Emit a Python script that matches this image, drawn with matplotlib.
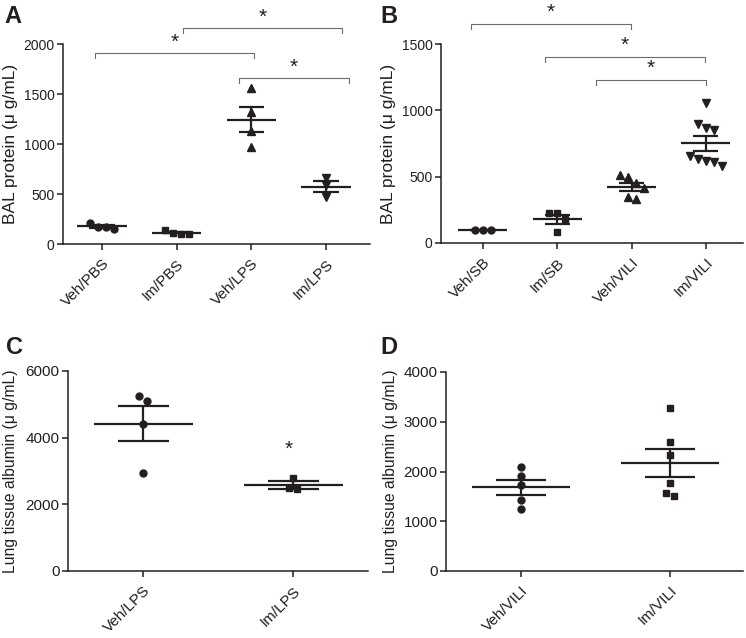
import numpy as np
import matplotlib.pyplot as plt

plt.rcParams['font.family'] = ['Liberation Sans', 'DejaVu Sans']

# ---- datos ----
# A: proteina en BAL, modelo LPS
grupos_a = ['Veh/PBS', 'Im/PBS', 'Veh/LPS', 'Im/LPS']
veh_pbs = [213, 173, 170, 150]
im_pbs = [140, 115, 100, 105]
veh_lps = [1560, 1320, 1130, 970]
im_lps = [660, 590, 475]

# B: proteina en BAL, modelo VILI
grupos_b = ['Veh/SB', 'Im/SB', 'Veh/VILI', 'Im/VILI']
veh_sb = [100, 100, 100]
im_sb = [225, 225, 180, 85]
veh_vili = [510, 495, 450, 415, 345, 330]
im_vili = [1053, 895, 864, 852, 656, 633, 618, 613, 580]

# C: albumina en tejido, LPS
grupos_c = ['Veh/LPS', 'Im/LPS']
alb_veh_lps = [5250, 5100, 4400, 2950]
alb_im_lps = [2800, 2450, 2500]

# D: albumina en tejido, VILI
grupos_d = ['Veh/VILI', 'Im/VILI']
alb_veh_vili = [2090, 1910, 1730, 1430, 1240]
alb_im_vili = [3270, 2590, 2330, 1760, 1570, 1510]

# comparaciones significativas (grupo i, grupo j, altura)
comp_a = [(0, 2, 1910), (1, 3, 2160), (2, 3, 1660)]
comp_b = [(0, 2, 1650), (1, 3, 1402), (2, 3, 1228)]

negro = '#231f20'
W, H = 746, 638
fig = plt.figure(figsize=(W / 100, H / 100), dpi=100)


def offsets(vals, px_unidad, px_cat, umbral=7.0, paso=8.0):
    # reparte en horizontal los puntos que se tocan (como GraphPad)
    vals = np.asarray(vals, float)
    orden = list(np.argsort(-vals, kind='stable'))
    off = np.zeros(len(vals))
    filas = [[orden[0]]]
    for k in orden[1:]:
        if (vals[filas[-1][-1]] - vals[k]) * px_unidad < umbral:
            filas[-1].append(k)
        else:
            filas.append([k])
    for f in filas:
        n = len(f)
        for m, k in enumerate(f):
            off[k] = (m - (n - 1) / 2) * paso / px_cat
    return off


def panel(rect, xlim, grupos, datos, marcas, ymax, paso_y, ylabel,
          fs_y, fs_x, fs_lab, ylab_x):
    ax = fig.add_axes(rect)
    ax.set_xlim(*xlim)
    ax.set_ylim(0, ymax)
    alto_px = rect[3] * H
    ancho_px = rect[2] * W
    px_unidad = alto_px / ymax
    px_cat = ancho_px / (xlim[1] - xlim[0])
    for i, (v, mk) in enumerate(zip(datos, marcas)):
        v = np.asarray(v, float)
        x = i + offsets(v, px_unidad, px_cat)
        ms = 5.5 if mk in ('^', 'v') else 5
        ax.plot(x, v, mk, color=negro, ms=ms, mec=negro, ls='none',
                clip_on=False, zorder=3)
        media = v.mean()
        sem = v.std(ddof=1) / np.sqrt(len(v))
        ax.hlines(media, i - 0.33, i + 0.33, color=negro, lw=1.6, zorder=4)
        ax.hlines([media - sem, media + sem], i - 0.17, i + 0.17,
                  color=negro, lw=1.6, zorder=4)
        ax.vlines(i, media - sem, media + sem, color=negro, lw=1.6, zorder=4)
    ax.set_yticks(np.arange(0, ymax + 1, paso_y))
    ax.set_xticks(range(len(grupos)))
    ax.set_xticklabels(grupos, rotation=45, ha='right', va='top',
                       rotation_mode='anchor')
    for s in ['top', 'right']:
        ax.spines[s].set_visible(False)
    for s in ['left', 'bottom']:
        ax.spines[s].set_linewidth(1.1)
        ax.spines[s].set_color(negro)
    ax.tick_params(direction='out', length=4, width=1.1, colors=negro)
    ax.tick_params(axis='y', labelsize=fs_y, pad=2)
    ax.tick_params(axis='x', labelsize=fs_x, pad=5)
    ax.set_ylabel(ylabel, fontsize=fs_lab, color=negro)
    ax.yaxis.set_label_coords(ylab_x, 0.5)
    return ax


def corchete(ax, i, j, y, dy, ystar, di=-0.08, dj=0.05, fs=15):
    x1, x2 = i + di, j + dj
    ax.plot([x1, x1, x2, x2], [y - dy, y, y, y - dy], color='#6d6d6d',
            lw=0.8, clip_on=False)
    ax.text((x1 + x2) / 2, y + ystar, '*', ha='center', va='center',
            fontsize=fs, color=negro, clip_on=False)


ax_a = panel([63 / W, 1 - 244 / H, 307 / W, 200 / H], (-0.522, 3.59),
             grupos_a, [veh_pbs, im_pbs, veh_lps, im_lps], ['o', 's', '^', 'v'],
             2000, 500, 'BAL protein (μ g/mL)', 10, 11, 12.5, -0.147)
corchete(ax_a, *comp_a[0], 50, 110, di=-0.09, dj=0.03)
corchete(ax_a, *comp_a[1], 50, 110, di=0.08, dj=0.22)
corchete(ax_a, *comp_a[2], 50, 110, di=-0.17, dj=0.31)

ax_b = panel([441 / W, 1 - 243 / H, 302 / W, 199 / H], (-0.565, 3.50),
             grupos_b, [veh_sb, im_sb, veh_vili, im_vili], ['o', 's', '^', 'v'],
             1500, 500, 'BAL protein (μ g/mL)', 10, 11, 12.5, -0.149)
corchete(ax_b, *comp_b[0], 38, 85, di=-0.16, dj=-0.01)
corchete(ax_b, *comp_b[1], 38, 85, di=-0.17, dj=-0.01)
corchete(ax_b, *comp_b[2], 38, 85, di=-0.48, dj=0.0)

ax_c = panel([68 / W, 1 - 571 / H, 300 / W, 200 / H], (-0.5, 1.5),
             grupos_c, [alb_veh_lps, alb_im_lps], ['o', 's'],
             6000, 2000, 'Lung tissue albumin (μ g/mL)', 11, 11, 11.3, -0.167)
ax_c.text(0.97, 3650, '*', ha='center', va='center', fontsize=15, color=negro)

ax_d = panel([446 / W, 1 - 571 / H, 297 / W, 199 / H], (-0.503, 1.49),
             grupos_d, [alb_veh_vili, alb_im_vili], ['o', 's'],
             4000, 1000, 'Lung tissue albumin (μ g/mL)', 11, 11, 11.3, -0.162)

for letra, x, y in [('A', 4, 5), ('B', 380, 5), ('C', 6, 336), ('D', 380, 336)]:
    fig.text(x / W, 1 - y / H, letra, fontsize=17, fontweight='bold',
             color=negro, ha='left', va='top')

plt.savefig('out.png', dpi=100)
